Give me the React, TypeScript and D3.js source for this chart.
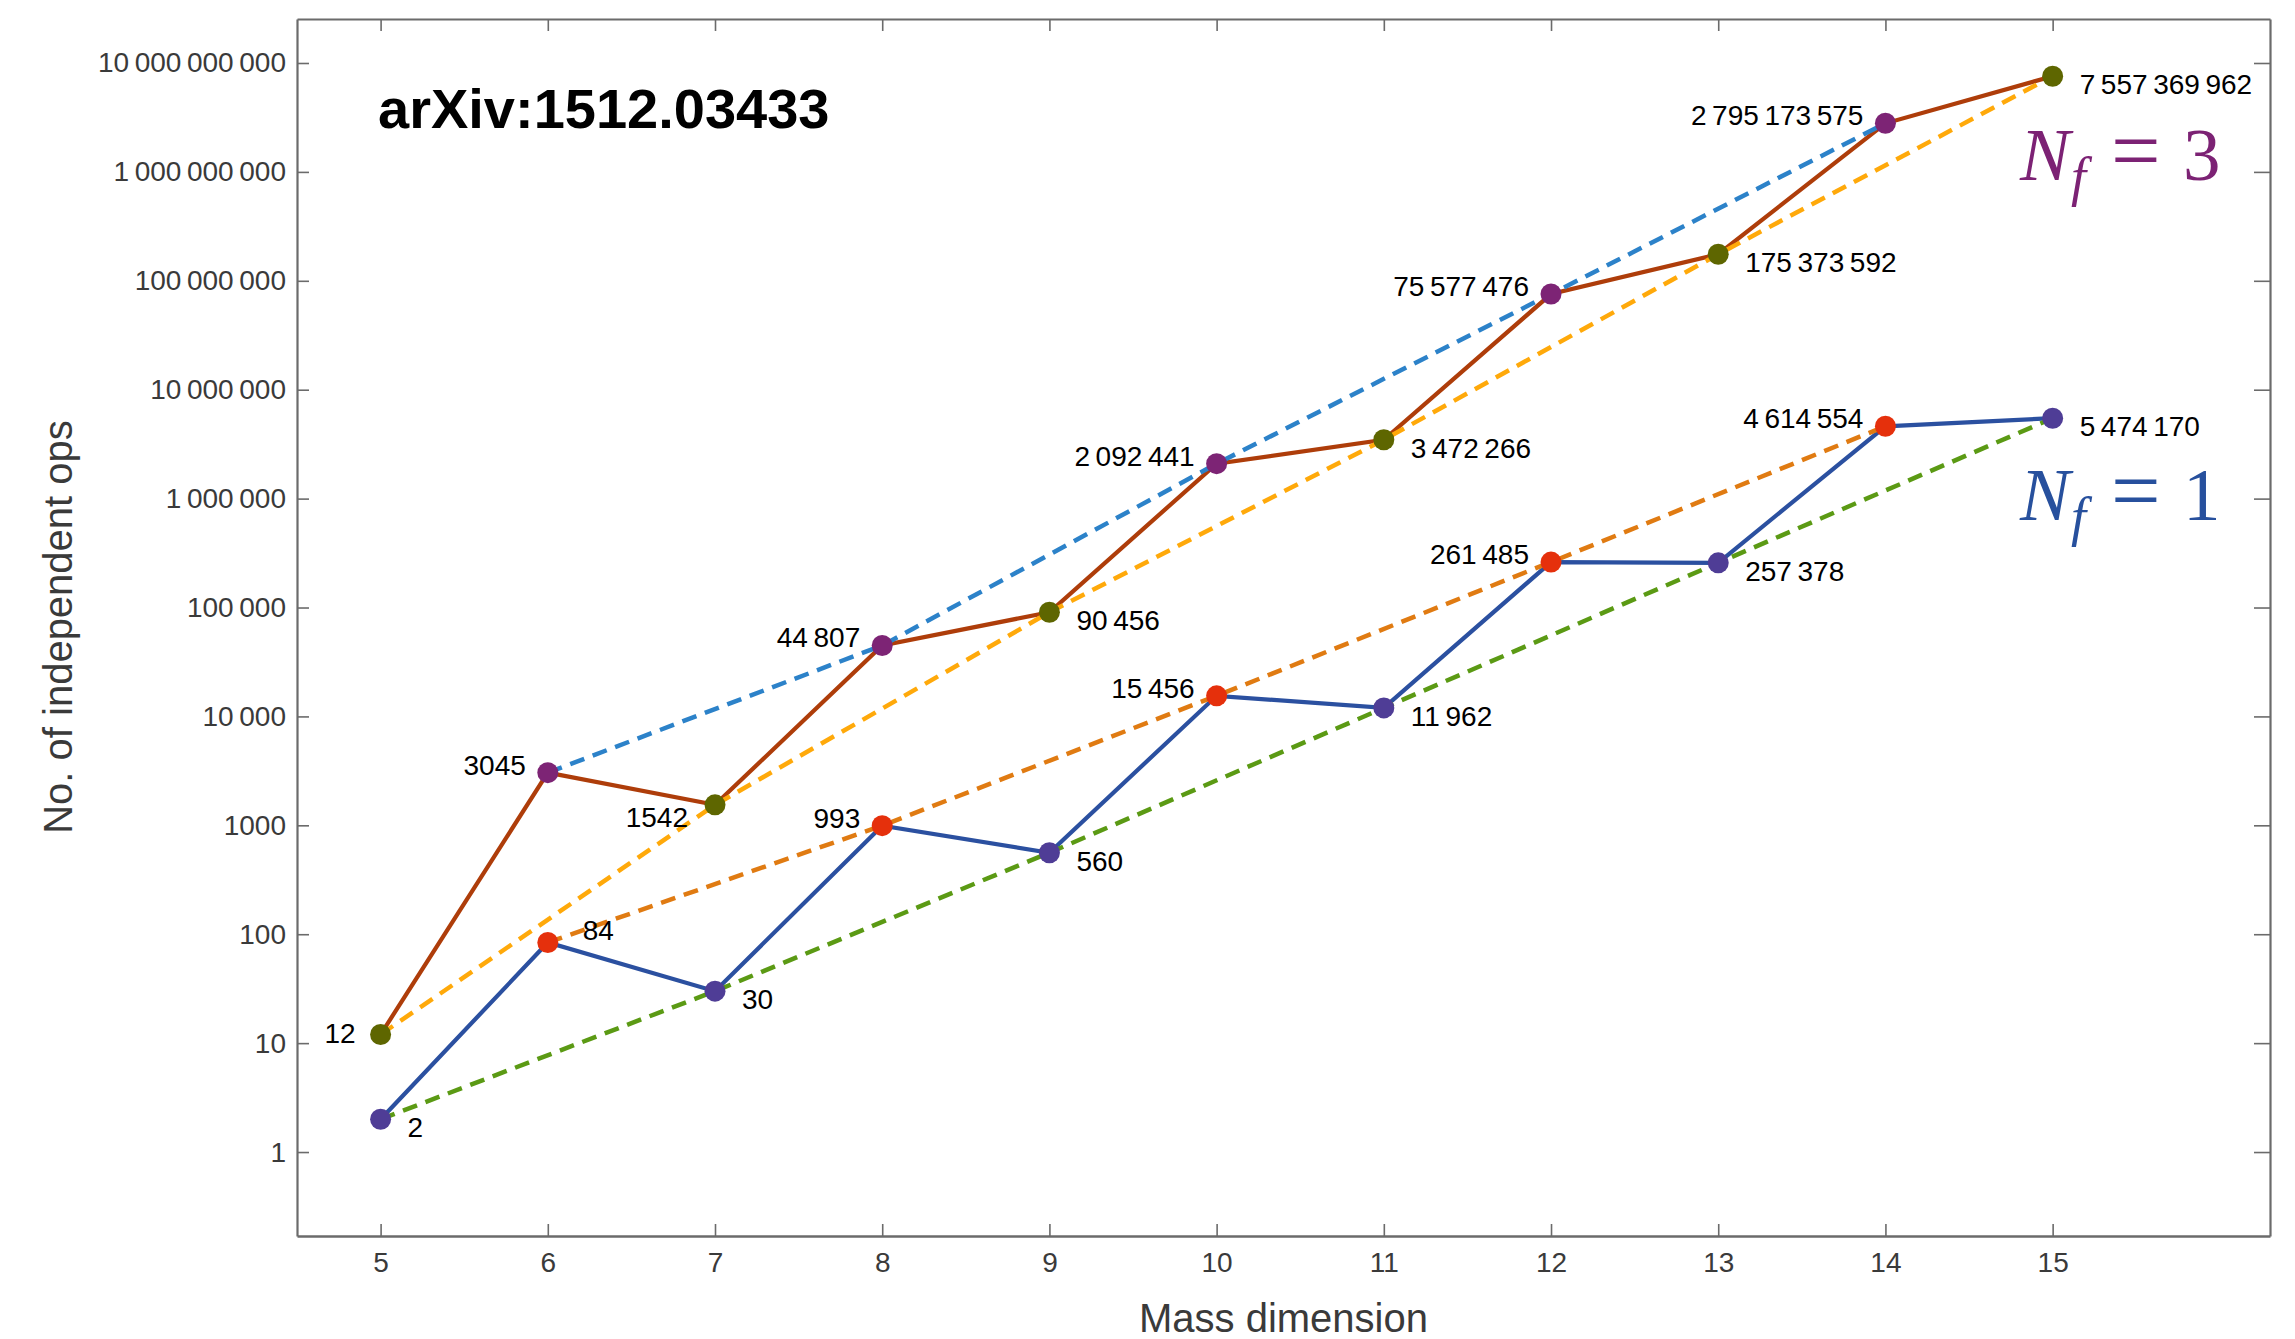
import { useEffect, useRef } from "react";
import * as d3 from "d3";

// mass dimension of the operators
const dims = [5, 6, 7, 8, 9, 10, 11, 12, 13, 14, 15];
// number of independent operators, N_f = 3
const nf3Counts = [
	12, 3045, 1542, 44807, 90456, 2092441, 3472266, 75577476, 175373592,
	2795173575, 7557369962,
];
// number of independent operators, N_f = 1
const nf1Counts = [
	2, 84, 30, 993, 560, 15456, 11962, 261485, 257378, 4614554, 5474170,
];

const yTickValues = [1, 10, 100, 1e3, 1e4, 1e5, 1e6, 1e7, 1e8, 1e9, 1e10];
const yTickLabels = [
	"1",
	"10",
	"100",
	"1000",
	"10\u2009000",
	"100\u2009000",
	"1\u2009000\u2009000",
	"10\u2009000\u2009000",
	"100\u2009000\u2009000",
	"1\u2009000\u2009000\u2009000",
	"10\u2009000\u2009000\u2009000",
];

// where each value label sits around its point
const placeNf3 = ["l", "la", "lb", "la", "rb", "la", "rb", "la", "rb", "la", "rb"];
const placeNf1 = ["rb", "r", "rb", "la", "rb", "la", "rb", "la", "rb", "la", "rb"];

type Place = "l" | "la" | "lb" | "r" | "rb";
const placeOffset: Record<Place, { anchor: string; dx: number; dy: number }> = {
	l: { anchor: "end", dx: -25, dy: 8 },
	la: { anchor: "end", dx: -22, dy: 2 },
	lb: { anchor: "end", dx: -27, dy: 22 },
	r: { anchor: "start", dx: 35, dy: -2 },
	rb: { anchor: "start", dx: 27, dy: 18 },
};

const W = 2295;
const H = 1339;
const SANS = "'Liberation Sans', Arial, Helvetica, sans-serif";
const SERIF = "'Liberation Serif', 'Times New Roman', serif";

const App = () => {
	const svgRef = useRef<SVGSVGElement>(null);

	useEffect(() => {
		if (!svgRef.current) return;
		const svg = d3.select(svgRef.current);
		svg.selectAll("*").remove();

		// frame of the plot
		const left = 297;
		const right = 2270;
		const top = 19;
		const bottom = 1236;

		const x = d3.scaleLinear().domain([4.5, 16.3]).range([left, right]);
		const y = d3
			.scaleLog()
			.domain([Math.pow(10, -0.771), Math.pow(10, 10.404)])
			.range([bottom, top]);

		const loc = d3.formatLocale({
			decimal: ".",
			thousands: "\u2009",
			grouping: [3],
			currency: ["", ""],
		});
		const fmtBig = loc.format(",d");
		const fmt = (v: number) => (v < 10000 ? String(v) : fmtBig(v));

		// axes on the four sides, ticks pointing inward
		const frameColor = "#6b6b6b";
		const labelColor = "#3a3a3a";

		const bottomAxis = svg
			.append("g")
			.attr("transform", `translate(0,${bottom})`)
			.call(
				d3
					.axisBottom(x)
					.tickValues(dims)
					.tickSizeInner(-12)
					.tickSizeOuter(0)
					.tickPadding(16)
					.tickFormat((d) => String(d))
			);
		bottomAxis.select(".domain").attr("stroke", frameColor).attr("stroke-width", 2.4);
		bottomAxis.selectAll(".tick line").attr("stroke", frameColor).attr("stroke-width", 1.6);
		bottomAxis
			.selectAll(".tick text")
			.attr("fill", labelColor)
			.attr("font-family", SANS)
			.attr("font-size", 28);

		const topAxis = svg
			.append("g")
			.attr("transform", `translate(0,${top})`)
			.call(d3.axisTop(x).tickValues(dims).tickSizeInner(-12).tickSizeOuter(0).tickFormat(() => ""));
		topAxis.select(".domain").attr("stroke", frameColor).attr("stroke-width", 2.2);
		topAxis.selectAll(".tick line").attr("stroke", frameColor).attr("stroke-width", 1.6);

		const leftAxis = svg
			.append("g")
			.attr("transform", `translate(${left},0)`)
			.call(
				d3
					.axisLeft(y)
					.tickValues(yTickValues)
					.tickSizeInner(-12)
					.tickSizeOuter(0)
					.tickPadding(11)
					.tickFormat((_d, i) => yTickLabels[i])
			);
		leftAxis.select(".domain").attr("stroke", frameColor).attr("stroke-width", 2.2);
		leftAxis.selectAll(".tick line").attr("stroke", frameColor).attr("stroke-width", 1.6);
		leftAxis
			.selectAll(".tick text")
			.attr("fill", labelColor)
			.attr("font-family", SANS)
			.attr("font-size", 28);

		const rightAxis = svg
			.append("g")
			.attr("transform", `translate(${right},0)`)
			.call(
				d3
					.axisRight(y)
					.tickValues(yTickValues)
					.tickSizeInner(-16)
					.tickSizeOuter(0)
					.tickFormat(() => "")
			);
		rightAxis.select(".domain").attr("stroke", frameColor).attr("stroke-width", 2.2);
		rightAxis.selectAll(".tick line").attr("stroke", frameColor).attr("stroke-width", 1.6);

		// axis titles
		svg
			.append("text")
			.attr("x", (left + right) / 2)
			.attr("y", 1332)
			.attr("text-anchor", "middle")
			.attr("font-family", SANS)
			.attr("font-size", 40)
			.attr("fill", labelColor)
			.text("Mass dimension");

		svg
			.append("text")
			.attr("transform", "translate(72,627) rotate(-90)")
			.attr("text-anchor", "middle")
			.attr("font-family", SANS)
			.attr("font-size", 40)
			.attr("fill", labelColor)
			.text("No. of independent ops");

		// series definitions
		const nf3 = dims.map((d, i) => ({ d, v: nf3Counts[i], place: placeNf3[i] as Place }));
		const nf1 = dims.map((d, i) => ({ d, v: nf1Counts[i], place: placeNf1[i] as Place }));
		type Pt = (typeof nf3)[number];

		const line = d3
			.line<Pt>()
			.x((p) => x(p.d))
			.y((p) => y(p.v));

		const even = (p: Pt) => p.d % 2 === 0;
		const odd = (p: Pt) => p.d % 2 === 1;

		const plot = svg.append("g");

		// solid lines through all dimensions
		plot
			.append("path")
			.attr("d", line(nf3))
			.attr("fill", "none")
			.attr("stroke", "#AE3D0A")
			.attr("stroke-width", 4.2);
		plot
			.append("path")
			.attr("d", line(nf1))
			.attr("fill", "none")
			.attr("stroke", "#2B50A0")
			.attr("stroke-width", 4.2);

		// dashed lines through even / odd dimensions
		const dashed: [Pt[], string][] = [
			[nf3.filter(even), "#2C82C9"],
			[nf3.filter(odd), "#FFA90A"],
			[nf1.filter(even), "#E07B12"],
			[nf1.filter(odd), "#5B9A14"],
		];
		dashed.forEach(([pts, color]) => {
			plot
				.append("path")
				.attr("d", line(pts))
				.attr("fill", "none")
				.attr("stroke", color)
				.attr("stroke-width", 4.5)
				.attr("stroke-dasharray", "15,9");
		});

		// markers
		const markers: [Pt[], string, string][] = [
			[nf3, "#7D2475", "#5E6600"],
			[nf1, "#E5300C", "#4F3D96"],
		];
		markers.forEach(([pts, evenColor, oddColor]) => {
			plot
				.append("g")
				.selectAll("circle")
				.data(pts)
				.enter()
				.append("circle")
				.attr("cx", (p) => x(p.d))
				.attr("cy", (p) => y(p.v))
				.attr("r", 10.5)
				.attr("fill", (p) => (even(p) ? evenColor : oddColor));
		});

		// value labels
		[nf3, nf1].forEach((pts) => {
			plot
				.append("g")
				.selectAll("text")
				.data(pts)
				.enter()
				.append("text")
				.attr("x", (p) => x(p.d) + placeOffset[p.place].dx)
				.attr("y", (p) => y(p.v) + placeOffset[p.place].dy)
				.attr("text-anchor", (p) => placeOffset[p.place].anchor)
				.attr("font-family", SANS)
				.attr("font-size", 28)
				.attr("fill", "#000")
				.text((p) => fmt(p.v));
		});

		// paper reference
		svg
			.append("text")
			.attr("x", 378)
			.attr("y", 128)
			.attr("font-family", SANS)
			.attr("font-weight", "bold")
			.attr("font-size", 56)
			.attr("fill", "#000")
			.text("arXiv:1512.03433");

		// N_f labels, one text element with tspans
		const nfLabel = (n: string, baseY: number, color: string) => {
			const t = svg
				.append("text")
				.attr("fill", color)
				.attr("font-family", SERIF)
				.attr("font-size", 75)
				.attr("y", baseY);
			t.append("tspan").attr("x", 2020).attr("font-style", "italic").text("N");
			t.append("tspan")
				.attr("x", 2071)
				.attr("dy", 15)
				.attr("font-size", 54)
				.attr("font-style", "italic")
				.text("f");
			t.append("tspan").attr("x", 2111).attr("dy", -15).attr("font-size", 88).text("=");
			t.append("tspan").attr("x", 2183).text(n);
		};
		nfLabel("3", 180, "#7C2274");
		nfLabel("1", 520, "#27509D");
	}, []);

	return (
		<svg
			ref={svgRef}
			width={W}
			height={H}
			style={{ position: "absolute", left: 0, top: 0, background: "#fff" }}
		></svg>
	);
};

export default App;
